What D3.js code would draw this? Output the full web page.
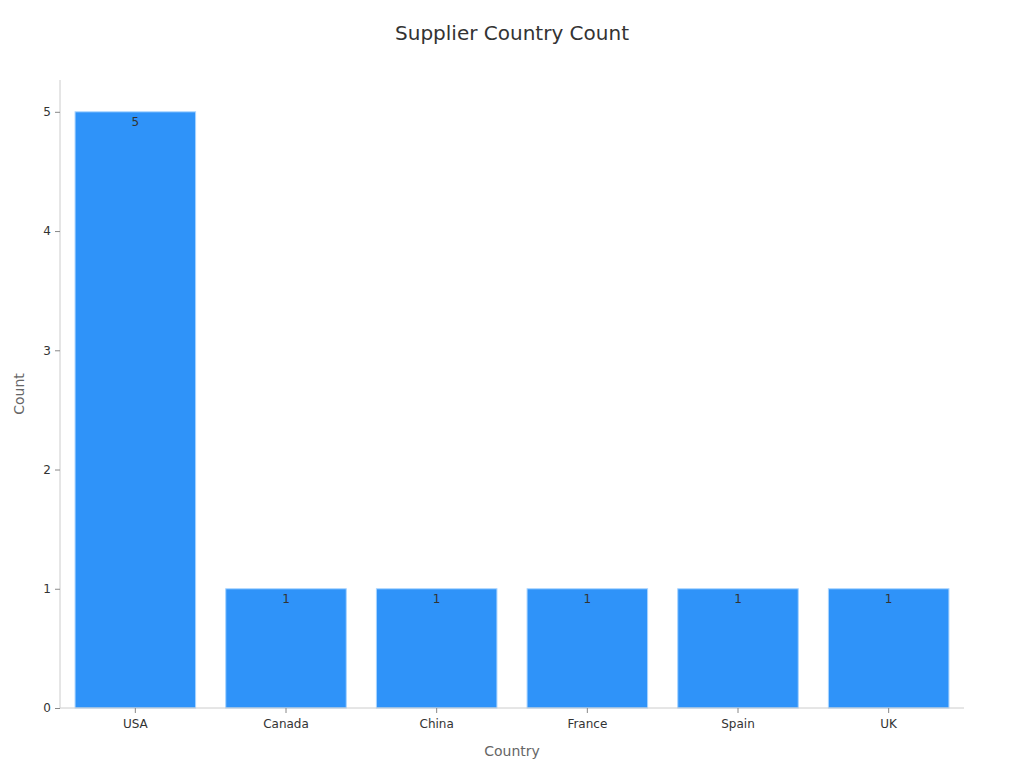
<!DOCTYPE html>
<html>
<head>
<meta charset="utf-8">
<script src="https://cdn.jsdelivr.net/npm/d3@7"></script>
<style>
  body { margin: 0; background: #fff; }
  text { font-family: "DejaVu Sans", sans-serif; }
</style>
</head>
<body>
<script>
// chart data
var countries = ["USA", "Canada", "China", "France", "Spain", "UK"];
var counts = [5, 1, 1, 1, 1, 1];
var yTicks = [0, 1, 2, 3, 4, 5];

var width = 1024, height = 768;
var margin = {top: 80, right: 60, bottom: 60, left: 60};

var svg = d3.select("body").append("svg")
    .attr("width", width)
    .attr("height", height);

var x = d3.scaleBand()
    .domain(countries)
    .range([margin.left, width - margin.right])
    .paddingInner(0.2)
    .paddingOuter(0.1);

var y = d3.scaleLinear()
    .domain([0, 5.25])
    .range([height - margin.bottom, margin.top + 2]);

// title
svg.append("text")
    .attr("x", width / 2)
    .attr("y", 40)
    .attr("text-anchor", "middle")
    .style("font-size", "20px")
    .style("fill", "#333")
    .text("Supplier Country Count");

// bars
svg.selectAll("rect.bar")
    .data(countries)
  .enter().append("rect")
    .attr("class", "bar")
    .attr("x", function(d) { return x(d); })
    .attr("y", function(d, i) { return y(counts[i]); })
    .attr("width", x.bandwidth())
    .attr("height", function(d, i) { return y(0) - y(counts[i]); })
    .style("fill", "#2f93f9")
    .style("stroke", "#a8d4ff")
    .style("stroke-width", 1);

// value labels
svg.selectAll("text.val")
    .data(countries)
  .enter().append("text")
    .attr("class", "val")
    .attr("x", function(d) { return x(d) + x.bandwidth() / 2; })
    .attr("y", function(d, i) { return y(counts[i]) + 14; })
    .attr("text-anchor", "middle")
    .style("font-size", "12px")
    .style("fill", "#333")
    .text(function(d, i) { return counts[i]; });

// y axis
var gy = svg.append("g")
    .attr("transform", "translate(" + margin.left + ",0)")
    .call(d3.axisLeft(y).tickValues(yTicks).tickSize(5).tickPadding(4).tickFormat(d3.format("d")));
gy.select(".domain").attr("stroke", "#ccc").attr("d", "M0," + y(0) + "V" + margin.top);
gy.selectAll(".tick line").attr("stroke", "#888");
gy.selectAll(".tick text").style("font-size", "12px").style("fill", "#333");

// x axis
var gx = svg.append("g")
    .attr("transform", "translate(0," + y(0) + ")")
    .call(d3.axisBottom(x).tickSize(5).tickPadding(6));
gx.select(".domain").attr("stroke", "#ccc").attr("d", "M" + margin.left + ",0H" + (width - margin.right));
gx.selectAll(".tick line").attr("stroke", "#888");
gx.selectAll(".tick text").style("font-size", "12px").style("fill", "#333");

// axis titles
svg.append("text")
    .attr("x", (margin.left + width - margin.right) / 2)
    .attr("y", 756)
    .attr("text-anchor", "middle")
    .style("font-size", "14px")
    .style("fill", "#666")
    .text("Country");

svg.append("text")
    .attr("transform", "translate(24," + (height - margin.bottom + margin.top) / 2 + ") rotate(-90)")
    .attr("text-anchor", "middle")
    .style("font-size", "14px")
    .style("fill", "#666")
    .text("Count");
</script>
</body>
</html>
